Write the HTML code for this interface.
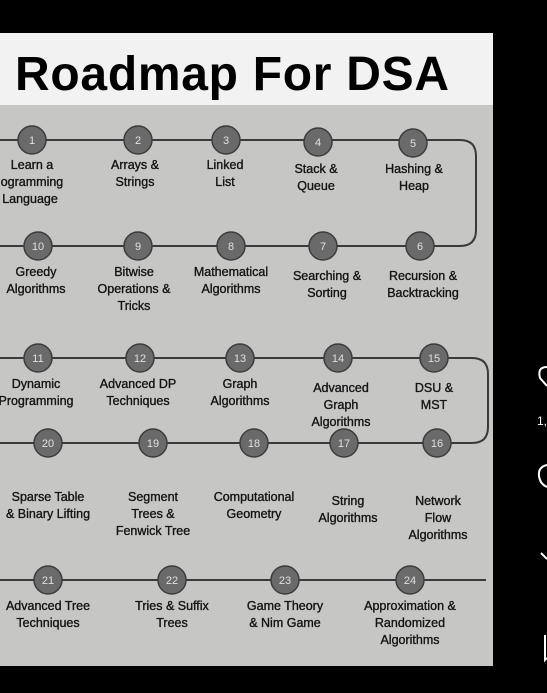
<!DOCTYPE html>
<html><head><meta charset="utf-8"><style>
html,body{margin:0;padding:0;background:#000;width:547px;height:693px;overflow:hidden}
svg{display:block}
</style></head><body>
<svg width="547" height="693" viewBox="0 0 547 693" xmlns="http://www.w3.org/2000/svg" font-family="Liberation Sans, sans-serif">
<rect width="547" height="693" fill="#000"/>
<rect x="0" y="105" width="493" height="561" fill="#c6c6c4"/>
<rect x="0" y="33" width="493" height="72" fill="#f2f2f2"/>
<text x="15" y="90" font-size="48" font-weight="bold" fill="#000" textLength="434">Roadmap For DSA</text>
<g fill="none" stroke="#3a3a3a" stroke-width="2">
<path d="M0 140 H460 Q476 140 476 156 V230 Q476 246 460 246 H0"/>
<path d="M0 358 H472 Q488 358 488 374 V427 Q488 443 472 443 H0"/>
<path d="M0 580 H486"/>
</g>
<g fill="#6a6a6a" stroke="#3c3c3c" stroke-width="1.5">
<circle cx="32" cy="140" r="14"/><circle cx="138" cy="140" r="14"/><circle cx="226" cy="140" r="14"/><circle cx="318" cy="142" r="14"/><circle cx="413" cy="143" r="14"/>
<circle cx="38" cy="246" r="14"/><circle cx="138" cy="246" r="14"/><circle cx="231" cy="246" r="14"/><circle cx="323" cy="246" r="14"/><circle cx="420" cy="246" r="14"/>
<circle cx="38" cy="358" r="14"/><circle cx="140" cy="358" r="14"/><circle cx="240" cy="358" r="14"/><circle cx="338" cy="358" r="14"/><circle cx="434" cy="358" r="14"/>
<circle cx="48" cy="443" r="14"/><circle cx="153" cy="443" r="14"/><circle cx="254" cy="443" r="14"/><circle cx="344" cy="443" r="14"/><circle cx="437" cy="443" r="14"/>
<circle cx="48" cy="580" r="14"/><circle cx="172" cy="580" r="14"/><circle cx="285" cy="580" r="14"/><circle cx="410" cy="580" r="14"/>
</g>
<g fill="#e0e0e0" font-size="11" text-anchor="middle">
<text x="32" y="144">1</text><text x="138" y="144">2</text><text x="226" y="144">3</text><text x="318" y="146">4</text><text x="413" y="147">5</text>
<text x="38" y="250">10</text><text x="138" y="250">9</text><text x="231" y="250">8</text><text x="323" y="250">7</text><text x="420" y="250">6</text>
<text x="38" y="362">11</text><text x="140" y="362">12</text><text x="240" y="362">13</text><text x="338" y="362">14</text><text x="434" y="362">15</text>
<text x="48" y="447">20</text><text x="153" y="447">19</text><text x="254" y="447">18</text><text x="344" y="447">17</text><text x="437" y="447">16</text>
<text x="48" y="584">21</text><text x="172" y="584">22</text><text x="285" y="584">23</text><text x="410" y="584">24</text>
</g>
<g fill="#141414" stroke="#141414" stroke-width="0.35" font-size="12.5" text-anchor="middle">
<text x="32" y="169">Learn a</text><text x="32" y="186">ogramming</text><text x="30" y="203">Language</text>
<text x="135" y="169">Arrays &amp;</text><text x="135" y="186">Strings</text>
<text x="225" y="169">Linked</text><text x="225" y="186">List</text>
<text x="316" y="173">Stack &amp;</text><text x="316" y="190">Queue</text>
<text x="414" y="173">Hashing &amp;</text><text x="414" y="190">Heap</text>
<text x="36" y="276">Greedy</text><text x="36" y="293">Algorithms</text>
<text x="134" y="276">Bitwise</text><text x="134" y="293">Operations &amp;</text><text x="134" y="310">Tricks</text>
<text x="231" y="276">Mathematical</text><text x="231" y="293">Algorithms</text>
<text x="327" y="280">Searching &amp;</text><text x="327" y="297">Sorting</text>
<text x="423" y="280">Recursion &amp;</text><text x="423" y="297">Backtracking</text>
<text x="36" y="388">Dynamic</text><text x="36" y="405">Programming</text>
<text x="138" y="388">Advanced DP</text><text x="138" y="405">Techniques</text>
<text x="240" y="388">Graph</text><text x="240" y="405">Algorithms</text>
<text x="341" y="392">Advanced</text><text x="341" y="409">Graph</text><text x="341" y="426">Algorithms</text>
<text x="434" y="392">DSU &amp;</text><text x="434" y="409">MST</text>
<text x="48" y="501">Sparse Table</text><text x="48" y="518">&amp; Binary Lifting</text>
<text x="153" y="501">Segment</text><text x="153" y="518">Trees &amp;</text><text x="153" y="535">Fenwick Tree</text>
<text x="254" y="501">Computational</text><text x="254" y="518">Geometry</text>
<text x="348" y="505">String</text><text x="348" y="522">Algorithms</text>
<text x="438" y="505">Network</text><text x="438" y="522">Flow</text><text x="438" y="539">Algorithms</text>
<text x="48" y="610">Advanced Tree</text><text x="48" y="627">Techniques</text>
<text x="172" y="610">Tries &amp; Suffix</text><text x="172" y="627">Trees</text>
<text x="285" y="610">Game Theory</text><text x="285" y="627">&amp; Nim Game</text>
<text x="410" y="610">Approximation &amp;</text><text x="410" y="627">Randomized</text><text x="410" y="644">Algorithms</text>
</g>
<g fill="none" stroke="#fff" stroke-width="2">
<path d="M547 367 Q537 367 540 378 L547 386"/>
<path d="M547 465 Q538 467 539 476 Q540 484 547 487"/>
<path d="M541 553 L547 559"/>
<path d="M545 635 V660 L547 658"/>
</g>
<text x="537" y="425" fill="#fff" font-size="12">1,</text>
</svg>
</body></html>
